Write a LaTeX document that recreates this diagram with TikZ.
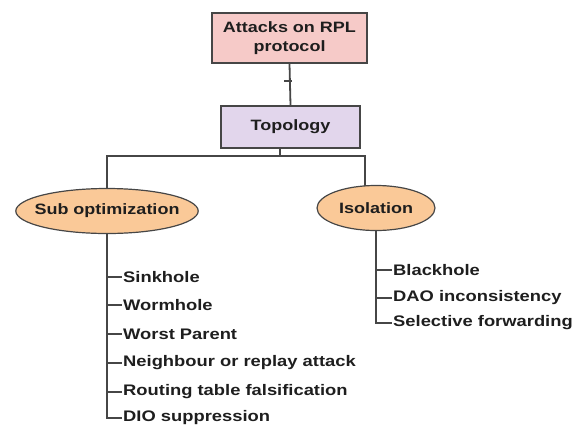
\documentclass[tikz,border=0pt]{standalone}
\usepackage{fontspec}
\setmainfont[FakeStretch=1.2]{Liberation Sans}
\usetikzlibrary{shapes.geometric,backgrounds}
\definecolor{rootpink}{RGB}{246,202,200}
\definecolor{topolav}{RGB}{226,214,236}
\definecolor{catorange}{RGB}{250,201,152}
\definecolor{edgegray}{RGB}{70,70,70}
\definecolor{inkdark}{RGB}{30,30,30}
\tikzset{
  rootbox/.style={draw=edgegray, line width=1.8pt, fill=rootpink, align=center,
    minimum width=155pt, minimum height=50pt, inner sep=0pt,
    font=\fontsize{15}{19}\selectfont\bfseries, text=inkdark},
  topobox/.style={draw=edgegray, line width=1.8pt, fill=topolav,
    minimum width=139pt, minimum height=42pt, inner sep=0pt,
    font=\fontsize{15}{18}\selectfont\bfseries, text=inkdark},
  catnode/.style={ellipse, draw=edgegray, line width=1.2pt, fill=catorange,
    inner sep=0pt, font=\fontsize{15}{18}\selectfont\bfseries, text=inkdark},
  leaf/.style={anchor=west, inner sep=1pt,
    font=\fontsize{15.3}{18}\selectfont\bfseries, text=inkdark},
  wire/.style={draw=edgegray, line width=1.8pt}
}
\begin{document}
\begin{tikzpicture}[x=1pt, y=-1pt]
\path[use as bounding box] (0,0) rectangle (578,429);

% hierarchy heads
\node[rootbox] (root) at (289.5,38) {Attacks on RPL\\protocol};
\node[topobox] (topo) at (290.5,127) {Topology};
\node[catnode, inner xsep=-8pt, minimum height=45pt] (sub) at (107,211) {Sub optimization};
\node[catnode, minimum width=118pt, minimum height=45pt] (iso) at (376,208) {Isolation};

% leaves under "Sub optimization"
\node[leaf] (sink)  at (122,277) {Sinkhole};
\node[leaf] (worm)  at (122,305) {Wormhole};
\node[leaf] (worst) at (122,334) {Worst Parent};
\node[leaf] (neigh) at (122,363) {Neighbour or replay attack};
\node[leaf] (rout)  at (122,392) {Routing table falsification};
\node[leaf] (dio)   at (122,418) {DIO suppression};

% leaves under "Isolation"
\node[leaf] (black) at (392,270) {Blackhole};
\node[leaf] (dao)   at (392,298) {DAO inconsistency};
\node[leaf] (sel)   at (392,323) {Selective forwarding};

% bus between the two categories
\coordinate (busL) at (107,156);
\coordinate (busM) at (280,156);
\coordinate (busR) at (365,156);

\begin{scope}[on background layer]
  \draw[wire] (root.south) -- (topo.north);
  \draw[wire] (284,81) -- (292,81);
  \draw[wire] (topo.south -| busM) -- (busM);
  \draw[wire] (sub.north) -- (busL) -- (busR) -- ([yshift=-12pt]busR |- iso.north);
  % Sub optimization branch
  \draw[wire] (sub.south) |- (dio.west);
  \foreach \n in {sink,worm,worst,neigh,rout}
    \draw[wire] (sub.south |- \n.west) -- (\n.west);
  % Isolation branch
  \draw[wire] (iso.south) |- (sel.west);
  \foreach \n in {black,dao}
    \draw[wire] (iso.south |- \n.west) -- (\n.west);
\end{scope}
\end{tikzpicture}
\end{document}
